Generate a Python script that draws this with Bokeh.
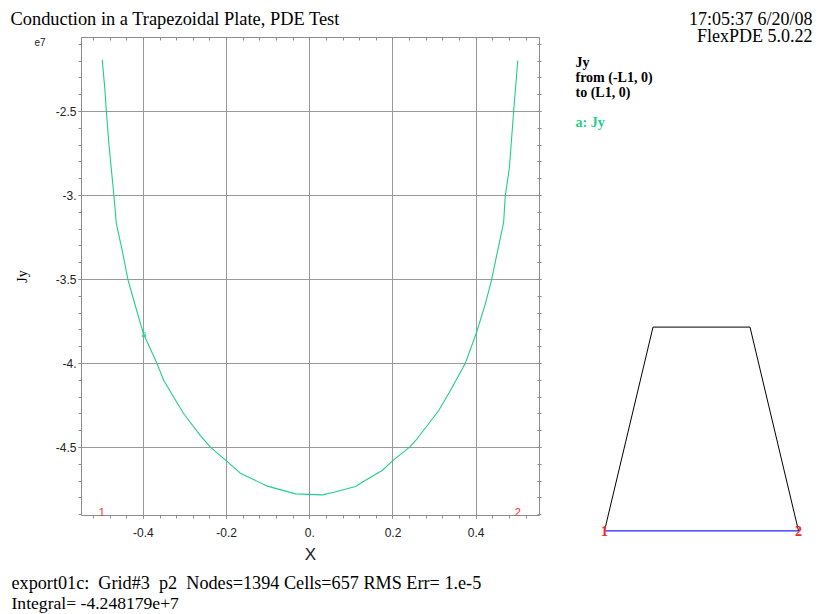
from bokeh.plotting import figure
from bokeh.models import (Range1d, LinearAxis, FixedTicker, Label, Grid, ColumnDataSource,
                          CustomJSTickFormatter)
from bokeh.layouts import row, column
from bokeh.embed import file_html
from bokeh.resources import INLINE

# ---------------- data (Jy in units of 1e7) ----------------
x_pos = [-0.499, -0.493, -0.489, -0.483, -0.471, -0.465, -0.451, -0.437, -0.423, -0.405,
         -0.399, -0.367, -0.351, -0.327, -0.303, -0.263, -0.239, -0.199, -0.167, -0.102,
         -0.034, 0.030, 0.058, 0.110, 0.130, 0.174, 0.200, 0.240, 0.258, 0.310,
         0.338, 0.374, 0.401, 0.422, 0.437, 0.450, 0.466, 0.470, 0.480, 0.490, 0.500]
jy_vals = [-2.192, -2.355, -2.500, -2.692, -2.998, -3.168, -3.327, -3.502, -3.625, -3.780,
           -3.827, -4.002, -4.101, -4.201, -4.299, -4.429, -4.498, -4.583, -4.653, -4.730,
           -4.776, -4.782, -4.766, -4.732, -4.701, -4.637, -4.577, -4.498, -4.448, -4.280,
           -4.161, -3.998, -3.814, -3.645, -3.502, -3.347, -3.159, -3.000, -2.832, -2.500, -2.196]
marker_x = [-0.399]
marker_y = [-3.827]

x_ticks = [-0.4, -0.2, 0.0, 0.2, 0.4]
x_tick_labels = ["-0.4", "-0.2", "0.", "0.2", "0.4"]
y_ticks = [-4.5, -4.0, -3.5, -3.0, -2.5]
y_tick_labels = ["-4.5", "-4.", "-3.5", "-3.", "-2.5"]
x_minor = [round(-0.56 + 0.04 * i, 2) for i in range(29)]
y_minor = [round(-5.0 + 0.1 * i, 1) for i in range(31)]
exponent_tick = [-2.089]
exponent_label = ["e7"]

# trapezoid domain (L1 = 0.5)
trap_side_x = [-0.5, -0.25, 0.25, 0.5]
trap_side_y = [0.0, 1.05, 1.05, 0.0]
path_x = [-0.5, 0.5]
path_y = [0.0, 0.0]
path_point_labels = ["1", "2"]

title_text = "Conduction in a Trapezoidal Plate, PDE Test"
stamp_lines = ["17:05:37 6/20/08", "FlexPDE 5.0.22"]
legend_lines = ["Jy", "from (-L1, 0)", "to (L1, 0)"]
series_label = "a: Jy"
footer_lines = ["export01c:\u00a0 Grid#3\u00a0 p2\u00a0 Nodes=1394 Cells=657 RMS Err= 1.e-5",
                "Integral= -4.248179e+7"]

GREEN = "#1fcf8a"
GRAY = "#8c8c8c"
SERIF = "Liberation Serif"
SANS = "Liberation Sans"


def blank(w, h, xr=(0, 1), yr=(0, 1)):
    f = figure(width=w, height=h, output_backend="svg", toolbar_location=None,
               x_range=Range1d(*xr), y_range=Range1d(*yr),
               x_axis_type=None, y_axis_type=None, min_border=0)
    f.outline_line_color = None
    f.xgrid.visible = False
    f.ygrid.visible = False
    f.frame_align = False
    return f


def slabel(f, x, baseline_y, panel_top, panel_h, text, fs, **kw):
    """Place text with its baseline at canvas row baseline_y (panel spans panel_top..panel_top+panel_h)."""
    kw.setdefault("text_color", "black")
    y = (panel_top + panel_h - baseline_y) + 0.28 * fs
    f.add_layout(Label(x=x, y=y, x_units="screen", y_units="screen", text=text,
                       text_font_size=f"{fs}px", text_baseline="alphabetic", **kw))


# ---------------- header (left part) ----------------
HEAD_H = 29
header = blank(560, HEAD_H)
slabel(header, 10, 24, 0, HEAD_H, title_text, 18.4, text_font=SERIF)

# ---------------- main plot ----------------
MID_BOTTOM = 574
P_H = MID_BOTTOM - HEAD_H
p = figure(width=560, height=P_H, output_backend="svg", toolbar_location=None,
           x_range=Range1d(-0.5488, 0.5522), y_range=Range1d(-4.9048, -2.0595),
           x_axis_type=None, y_axis_type=None,
           min_border_left=81, min_border_right=21, min_border_top=37 - HEAD_H,
           min_border_bottom=MID_BOTTOM - 515)
p.outline_line_color = None
p.frame_align = False

xt = FixedTicker(ticks=x_ticks, minor_ticks=x_minor)
yt = FixedTicker(ticks=y_ticks, minor_ticks=y_minor)
xover = {t: s for t, s in zip(x_ticks, x_tick_labels)}
yover = {t: s for t, s in zip(y_ticks, y_tick_labels)}
no_labels = CustomJSTickFormatter(code="return '';")


def style(ax, tin, tout, labels):
    ax.axis_line_color = GRAY
    ax.major_tick_line_color = GRAY
    ax.minor_tick_line_color = GRAY
    ax.major_tick_in = tin
    ax.major_tick_out = tout
    ax.minor_tick_in = tin
    ax.minor_tick_out = tout
    if labels:
        ax.major_label_text_font = SANS
        ax.major_label_text_font_size = "12px"
        ax.major_label_text_color = "#222222"
    else:
        ax.formatter = no_labels
        ax.major_label_standoff = 0


bx = LinearAxis(ticker=xt, major_label_overrides=xover, axis_label="X")
style(bx, 0, 3, True)
bx.major_label_standoff = 9
bx.axis_label_text_font = SANS
bx.axis_label_text_font_style = "normal"
bx.axis_label_text_font_size = "17px"
bx.axis_label_text_color = "#222222"
bx.axis_label_standoff = 5
p.add_layout(bx, "below")

lx = LinearAxis(ticker=yt, major_label_overrides=yover)
style(lx, 0, 3, True)
lx.major_label_standoff = 2
p.add_layout(lx, "left")

ex = LinearAxis(ticker=FixedTicker(ticks=exponent_tick, minor_ticks=[]),
                major_label_overrides={exponent_tick[0]: exponent_label[0]},
                axis_label="Jy")
ex.axis_line_color = None
ex.major_tick_line_color = None
ex.major_tick_out = 0
ex.major_tick_in = 0
ex.major_label_standoff = 7
ex.major_label_text_font = SANS
ex.major_label_text_font_size = "10px"
ex.major_label_text_color = "#222222"
ex.axis_label_text_font = SERIF
ex.axis_label_text_font_style = "normal"
ex.axis_label_text_font_size = "14px"
ex.axis_label_text_color = "black"
ex.axis_label_standoff = 1
p.add_layout(ex, "left")

tx = LinearAxis(ticker=xt)
style(tx, 3, 0, False)
p.add_layout(tx, "above")

rx = LinearAxis(ticker=yt)
style(rx, 2, 2, False)
p.add_layout(rx, "right")

p.add_layout(Grid(dimension=0, ticker=xt, grid_line_color="#999999"))
p.add_layout(Grid(dimension=1, ticker=yt, grid_line_color="#999999"))

src = ColumnDataSource(dict(x=x_pos, y=jy_vals))
p.line("x", "y", source=src, line_color=GREEN, line_width=1.1)

p.add_layout(Label(x=marker_x[0], y=marker_y[0], text="a", text_color=GREEN,
                   text_font=SANS, text_font_size="9px", text_align="center",
                   text_baseline="middle"))

for xv, s in zip(path_x, path_point_labels):
    p.add_layout(Label(x=xv, y=4, x_units="data", y_units="screen", text=s,
                       text_color="#ff3030", text_font=SANS, text_font_size="11px",
                       text_align="center", text_baseline="middle"))

# ---------------- right panel (full height down to 574) ----------------
Q_H = MID_BOTTOM
y0_from_bottom = MID_BOTTOM - 530.3
scale = 194.0
q = blank(259, Q_H,
          xr=(-0.5 - 44 / scale, 0.5 + (259 - 238) / scale),
          yr=(-y0_from_bottom / scale, (Q_H - y0_from_bottom) / scale))
q.line(trap_side_x, trap_side_y, line_color="black", line_width=1)
q.line(path_x, path_y, line_color="#2020ff", line_width=1.2)
for xv, yv, s in zip(path_x, path_y, path_point_labels):
    q.add_layout(Label(x=xv, y=yv, text=s, text_color="#ff2020", text_font=SERIF,
                       text_font_style="bold", text_font_size="14px",
                       text_align="center", text_baseline="middle"))

slabel(q, 252, 24, 0, Q_H, stamp_lines[0], 18, text_font=SERIF, text_align="right")
slabel(q, 252, 41, 0, Q_H, stamp_lines[1], 18, text_font=SERIF, text_align="right")
for i, s in enumerate(legend_lines):
    slabel(q, 15, 66 + 15 * i, 0, Q_H, s, 14, text_font=SERIF, text_font_style="bold")
slabel(q, 15, 126, 0, Q_H, series_label, 14, text_font=SERIF, text_font_style="bold",
       text_color=GREEN)

# ---------------- footer ----------------
FOOT_H = 614 - MID_BOTTOM
footer = blank(819, FOOT_H)
footer_sizes = [18.2, 17.6]
for i, s in enumerate(footer_lines):
    slabel(footer, 11, 588 + 19 * i, MID_BOTTOM, FOOT_H, s, footer_sizes[i], text_font=SERIF)

layout = column(row(column(header, p), q), footer)
open("out.html", "w").write(file_html(layout, INLINE))
